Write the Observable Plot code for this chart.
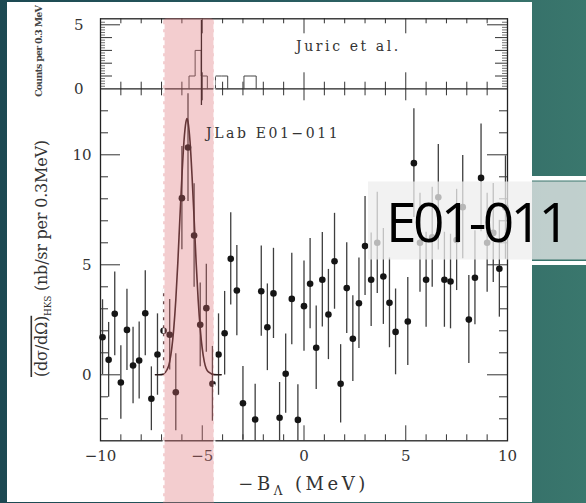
<!DOCTYPE html>
<html><head><meta charset="utf-8">
<script src="https://cdn.jsdelivr.net/npm/d3@7"></script>
<script src="https://cdn.jsdelivr.net/npm/@observablehq/plot@0.6"></script>
<style>
html,body{margin:0;padding:0;width:586px;height:503px;overflow:hidden;}
body{position:relative;background:linear-gradient(90deg,#1c4952 0%,#27595e 45%,#3a776d 100%);}
#panel{position:absolute;left:7px;top:2px;width:525px;height:499.5px;background:#fff;}
#chart{position:absolute;left:0;top:0;}
#ov{position:absolute;left:0;top:0;}
</style></head><body>
<div id="panel"></div>
<div id="chart"></div>
<svg id="ov" width="586" height="503">
  <rect x="532" y="176" width="54" height="4.5" fill="#fff"/>
  <rect x="532" y="261" width="54" height="4" fill="#fff"/>
  <rect x="368" y="181.5" width="218" height="78" fill="rgb(238,238,238)" fill-opacity="0.75"/>
  <text x="386" y="241.7" font-family="Open Sans" font-size="55" fill="#000" letter-spacing="-3.6px">E01-011</text>
</svg>
<script>
// ---- data ----
const energyMeV = [-9.9,-9.6,-9.3,-9.0,-8.7,-8.4,-8.1,-7.8,-7.5,-7.2,-6.9,-6.6,-6.3,-6.0,-5.7,-5.4,-5.1,-4.8,-4.5,-4.2,-3.9,-3.6,-3.3,-3.0,
  -2.4,-2.1,-1.8,-1.5,-1.2,-0.9,-0.6,-0.3,0.0,0.3,0.6,0.9,1.2,1.5,1.8,2.1,2.4,2.7,3.0,3.3,3.6,3.9,4.2,4.5,
  5.1,5.4,5.7,6.0,6.3,6.6,6.9,7.2,7.5,7.8,8.1,8.4,8.7,9.0,9.3,9.6,9.9];
const crossSection = [1.71,0.68,2.77,-0.35,2.04,0.42,0.65,2.80,-1.09,0.92,2.00,1.82,-0.79,8.03,10.33,6.33,2.27,3.03,-0.41,0.92,1.89,5.27,3.83,-1.29,
  -2.03,3.80,2.16,3.70,-1.95,0.05,3.45,-2.05,3.12,4.14,1.23,4.32,2.74,5.16,-0.41,3.94,1.64,3.25,5.85,4.32,6.00,4.47,3.27,1.95,
  2.42,9.62,6.00,4.32,6.25,8.07,4.32,4.24,6.13,7.62,2.51,4.41,8.95,6.00,6.45,4.82,7.60];
const crossSectionErr = [1.7,1.7,1.9,1.67,1.85,1.74,1.75,1.93,1.45,1.85,1.9,1.6,1.75,2.35,2.45,2.35,1.9,2.0,1.7,1.85,1.9,2.1,2.05,1.67,
  1.6,2.05,1.97,2.05,1.6,1.8,2.08,1.6,2.05,2.05,1.9,2.15,2.05,2.18,1.78,2.06,1.95,2.06,2.25,2.12,2.3,2.18,2.04,1.95,
  2.0,2.47,2.25,2.16,2.27,2.4,2.16,2.15,2.3,2.35,2.0,2.14,2.45,2.25,2.25,2.2,2.35];
const fitX = [-7.3,-7.0,-6.8,-6.6,-6.4,-6.3,-6.2,-6.1,-6.0,-5.9,-5.8,-5.75,-5.7,-5.6,-5.5,-5.4,-5.3,-5.2,-5.1,-4.9,-4.7,-4.4,-4.07];
const fitY = [0,0.01,0.13,0.6,2.1,3.4,5.1,7.1,9.0,10.6,11.5,11.65,11.5,10.6,9.0,7.1,5.1,3.4,2.1,0.6,0.13,0.01,0];
const juricBinStart = [-5.65,-5.35,-5.05,-4.35,-4.05,-2.95,-2.65];
const juricCounts = [1,3,1,1,1,1,1];
const juricBinWidth = 0.3;
const juricPeakMeV = -5.04;
const highlightMeV = [-6.9,-4.4];
const xTickLabels = [-10,-5,0,5,10];
const yTickLabels = [0,5,10];
const countTickLabels = [0,5];

// ---- layout ----
const pxX = 407/20, pxY = 22, pxC = 12.8;
const yTop = 13 + 70/pxY;             // top edge of upper (counts) panel
const cY = c => 13 + c*pxC/pxY;       // counts -> shared y scale
const lx = px => px/pxX, ly = px => px/pxY;

const points = energyMeV.map((x,i)=>({x, y:crossSection[i], lo:Math.max(-3, crossSection[i]-crossSectionErr[i]), hi:Math.min(13, crossSection[i]+crossSectionErr[i])}));
const fit = fitX.map((x,i)=>({x, y:fitY[i]}));
const hist = [];
let run = 0, prevEnd = null;
juricBinStart.forEach((s,i)=>{
  if (prevEnd === null || Math.abs(s-prevEnd) > 1e-6) { if (prevEnd !== null) hist.push({x:prevEnd, c:0, run}); run++; hist.push({x:s, c:0, run}); }
  hist.push({x:s, c:juricCounts[i], run});
  prevEnd = s + juricBinWidth;
});
hist.push({x:prevEnd, c:0, run});

const ints = d3.range(-10, 11);
const xMinor = ints.filter(d => !xTickLabels.includes(d));
const yMinor = d3.range(-2, 13).filter(d => !yTickLabels.includes(d));
const cInt = [1,2,3,4];
const cSub = d3.range(0.2, 5.4, 0.2).filter(d => Math.abs(d - Math.round(d)) > 0.01);
const tick = {stroke:"#333", strokeWidth:1};
const serif = "DejaVu Serif";

const chart = Plot.plot({
  width: 586, height: 503,
  marginLeft: 100, marginRight: 79, marginTop: 18.3, marginBottom: 62.7,
  style: {background: "transparent", overflow: "visible"},
  x: {domain: [-10, 10], axis: null},
  y: {domain: [-3, yTop], axis: null},
  marks: [
    Plot.ruleX(xMinor, {x: d=>d, y1: -3, y2: -3+ly(6), ...tick}),
    Plot.ruleX(xTickLabels, {x: d=>d, y1: -3, y2: -3+ly(15), ...tick}),
    Plot.ruleX(xMinor, {x: d=>d, y1: 13-ly(7), y2: 13+ly(6.6), ...tick}),
    Plot.ruleX(xTickLabels, {x: d=>d, y1: 13-ly(12), y2: 13+ly(16), ...tick}),
    Plot.ruleX(xMinor, {x: d=>d, y1: yTop-ly(5), y2: yTop, ...tick}),
    Plot.ruleX(xTickLabels, {x: d=>d, y1: yTop-ly(15), y2: yTop, ...tick}),
    Plot.ruleY(yMinor, {y: d=>d, x1: -10, x2: -10+lx(8), ...tick}),
    Plot.ruleY(yTickLabels, {y: d=>d, x1: -10, x2: -10+lx(20), ...tick}),
    Plot.ruleY(yMinor, {y: d=>d, x1: 10-lx(8), x2: 10, ...tick}),
    Plot.ruleY(yTickLabels, {y: d=>d, x1: 10-lx(20), x2: 10, ...tick}),
    Plot.ruleY(cSub, {y: d=>cY(d), x1: -10, x2: -10+lx(5), ...tick, strokeWidth:0.7}),
    Plot.ruleY(cSub, {y: d=>cY(d), x1: 10-lx(5), x2: 10, ...tick, strokeWidth:0.7}),
    Plot.ruleY(cInt, {y: d=>cY(d), x1: -10, x2: -10+lx(12), ...tick}),
    Plot.ruleY(cInt, {y: d=>cY(d), x1: 10-lx(12), x2: 10, ...tick}),
    Plot.ruleY([5], {y: d=>cY(d), x1: -10, x2: -10+lx(20), ...tick}),
    Plot.ruleY([5], {y: d=>cY(d), x1: 10-lx(20), x2: 10, ...tick}),
    Plot.frame({stroke: "#222", strokeWidth: 1.3}),
    Plot.ruleY([13], {stroke: "#222", strokeWidth: 1.3}),
    Plot.text(xTickLabels, {x: d=>d, y: ()=>-3, dy: 15, text: d => d<0 ? "\u2212"+(-d) : String(d), fontFamily: serif, fontSize: 15, fill: "#333"}),
    Plot.text(yTickLabels, {x: ()=>-10, y: d=>d, dx: -9, textAnchor: "end", text: d=>String(d), fontFamily: serif, fontSize: 15, fill: "#333"}),
    Plot.text(countTickLabels, {x: ()=>-10, y: d=>cY(d), dx: -17, textAnchor: "end", text: d=>String(d), fontFamily: serif, fontSize: 15, fill: "#333"}),
    Plot.line(hist, {x: "x", y: d=>cY(d.c), z: "run", curve: "step-after", stroke: "#444", strokeWidth: 1}),
    Plot.ruleX([juricPeakMeV], {x: d=>d, y1: 13-ly(16.7), y2: cY(5.34), stroke: "#111", strokeWidth: 1.3}),
    Plot.ruleX(points, {x: "x", y1: "lo", y2: "hi", stroke: "#3e3e3e", strokeWidth: 1.3}),
    Plot.line(fit, {x: "x", y: "y", curve: "monotone-x", stroke: "#2a1a1a", strokeWidth: 1.6}),
    Plot.dot(points, {x: "x", y: "y", r: 3.3, fill: "#151515"}),
    Plot.rect([highlightMeV], {x1: d=>d[0], x2: d=>d[1], y1: -6.5, y2: yTop, fill: "rgb(220,108,114)", fillOpacity: 0.34, rx: 4}),
    Plot.ruleX(highlightMeV, {x: d=>d, y1: -6.5, y2: yTop-ly(3), stroke: "white", strokeWidth: 2, strokeDasharray: "5,3"})
  ]
});
document.getElementById("chart").appendChild(chart);

const sx = chart.scale("x"), sy = chart.scale("y");
const svg = d3.select(chart);
svg.append("text").attr("x", sx.apply(-4.79)).attr("y", sy.apply(13-ly(50))).attr("text-anchor", "start")
  .attr("font-family", serif).attr("font-size", 14).attr("fill", "#333").attr("letter-spacing", "2.6px")
  .text("JLab E01\u2212011");
svg.append("text").attr("x", sx.apply(-0.37)).attr("y", sy.apply(cY(2.91))).attr("text-anchor", "start")
  .attr("font-family", serif).attr("font-size", 14).attr("fill", "#333").attr("letter-spacing", "2.6px")
  .text("Juric et al.");
const xt = svg.append("text").attr("x", sx.apply(0)).attr("y", 490).attr("text-anchor", "middle")
  .attr("font-family", serif).attr("font-size", 18).attr("fill", "#333").attr("letter-spacing", "3.5px");
xt.append("tspan").text("\u2212B");
xt.append("tspan").attr("dy", 5).attr("font-size", 12).text("\u039B");
xt.append("tspan").attr("dy", -5).text(" (MeV)");
const yt = svg.append("text").attr("transform", "translate(46.5,377) rotate(-90)").attr("text-anchor", "start")
  .attr("font-family", serif).attr("font-size", 16).attr("fill", "#333")
  .attr("textLength", 237).attr("lengthAdjust", "spacing");
yt.append("tspan").style("text-decoration", "overline").text("(d\u03C3/d\u03A9)");
yt.append("tspan").attr("dy", 4).attr("font-size", 9).text("HKS");
yt.append("tspan").attr("dy", -4).text(" (nb/sr per 0.3MeV)");
svg.append("text").attr("transform", "translate(42,51) rotate(-90)").attr("text-anchor", "middle")
  .attr("font-family", serif).attr("font-size", 9.5).attr("font-weight", "bold").attr("fill", "#444")
  .attr("textLength", 92).attr("lengthAdjust", "spacing")
  .text("Counts per 0.3 MeV");
</script>
</body></html>
